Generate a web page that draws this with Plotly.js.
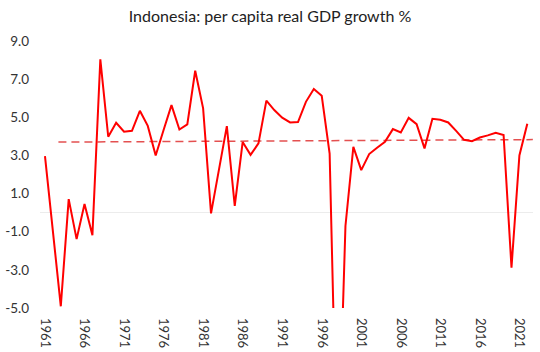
<!DOCTYPE html>
<html>
<head>
<meta charset="utf-8">
<script src="https://cdn.plot.ly/plotly-3.0.1.min.js"></script>
<style>html,body{margin:0;padding:0;background:#fff;}#chart{width:540px;height:352px;}</style>
</head>
<body>
<div id="chart"></div>
<script>
const years = [1961,1962,1963,1964,1965,1966,1967,1968,1969,1970,
  1971,1972,1973,1974,1975,1976,1977,1978,1979,1980,
  1981,1982,1983,1984,1985,1986,1987,1988,1989,1990,
  1991,1992,1993,1994,1995,1996,1997,1998,1999,2000,
  2001,2002,2003,2004,2005,2006,2007,2008,2009,2010,
  2011,2012,2013,2014,2015,2016,2017,2018,2019,2020,
  2021,2022];
const growth = [2.96,-0.9,-4.91,0.71,-1.39,0.45,-1.18,8.04,3.98,4.71,
  4.24,4.29,5.34,4.55,3.0,4.33,5.64,4.36,4.63,7.44,
  5.47,-0.04,2.2,4.54,0.35,3.7,3.03,3.63,5.87,5.38,
  4.98,4.73,4.75,5.81,6.48,6.13,3.1,-14.3,-0.7,3.45,
  2.23,3.07,3.4,3.71,4.38,4.2,4.97,4.64,3.37,4.92,
  4.87,4.73,4.29,3.82,3.75,3.94,4.05,4.19,4.07,-2.88,
  3.0,4.66];
const trendYears = [1962.7, 2022.7];
const trendValues = [3.70, 3.83];
const xTickYears = [1961,1966,1971,1976,1981,1986,1991,1996,2001,2006,2011,2016,2021];
const yTickValues = [-5,-3,-1,1,3,5,7,9];

const traces = [
  {x: trendYears, y: trendValues, type: 'scatter', mode: 'lines',
   line: {color: 'rgb(228,80,80)', width: 1.5, dash: '8px,5px'}, hoverinfo: 'skip'},
  {x: years, y: growth, type: 'scatter', mode: 'lines',
   line: {color: 'rgb(255,0,0)', width: 2}}
];
const layout = {
  width: 540, height: 352,
  margin: {l: 40, r: 7, t: 41, b: 44, pad: 0},
  paper_bgcolor: '#fff', plot_bgcolor: '#fff',
  showlegend: false,
  font: {family: 'Lato, "Open Sans", sans-serif', color: '#333', size: 13},
  title: {text: 'Indonesia: per capita real GDP growth %', x: 0.5, xanchor: 'center', y: 0.953, yanchor: 'middle',
          font: {family: 'Lato, sans-serif', size: 16, color: '#222'}},
  xaxis: {range: [1960.37, 2022.72], tickmode: 'array', tickvals: xTickYears, ticktext: xTickYears.map(String),
          tickangle: 90, showgrid: false, zeroline: false, showline: false, ticks: '', ticklen: 0,
          ticklabelstandoff: 9, tickfont: {size: 13, color: '#333'}},
  yaxis: {range: [-5, 9], tickmode: 'array', tickvals: yTickValues, ticktext: yTickValues.map(v => v.toFixed(1)),
          showgrid: false, zeroline: true, zerolinecolor: '#ececec', zerolinewidth: 1, showline: false,
          ticks: '', ticklabelstandoff: 10, tickfont: {size: 13.5, color: '#333'}}
};
Plotly.newPlot('chart', traces, layout, {staticPlot: true, displayModeBar: false});
</script>
</body>
</html>
